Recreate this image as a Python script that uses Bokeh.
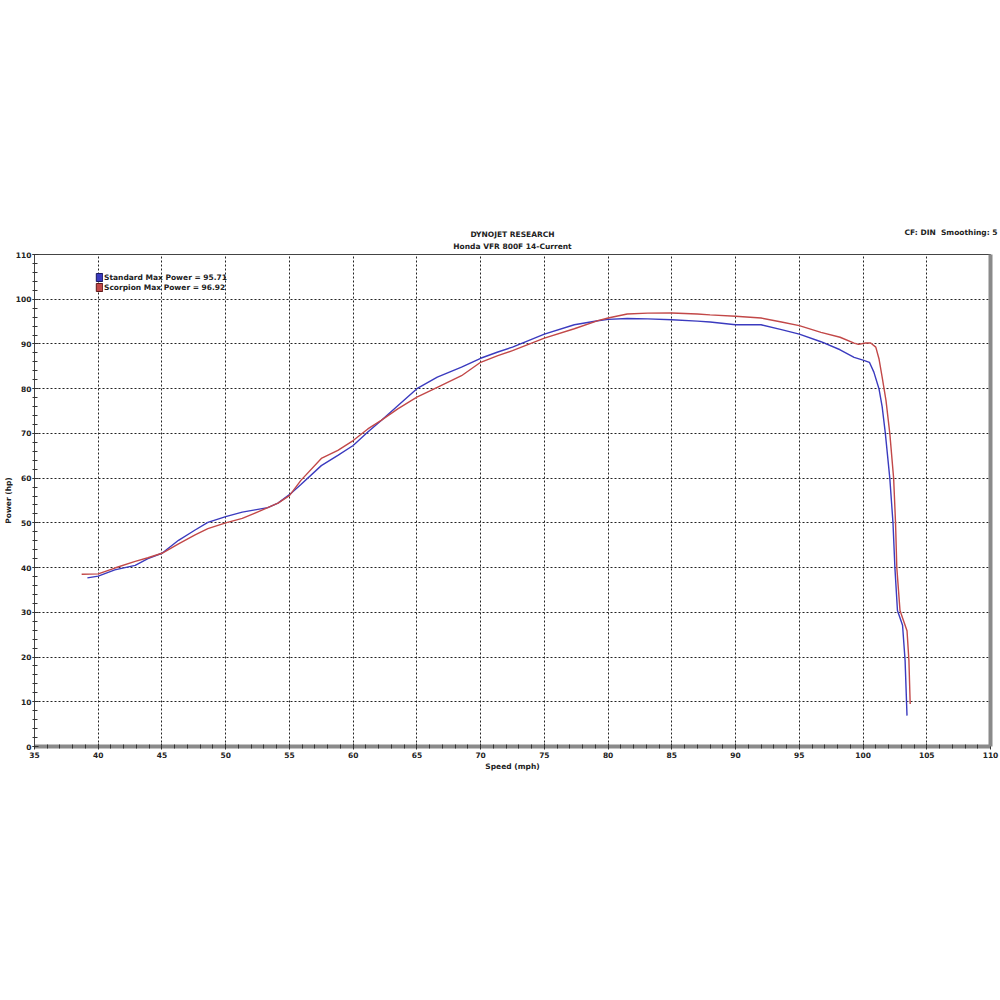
import math
from bokeh.plotting import figure
from bokeh.models import (SingleIntervalTicker, FixedTicker, LinearAxis, Legend, LegendItem, Range1d, Title)
from bokeh.embed import file_html
from bokeh.resources import INLINE

# ---- data ----
speed_std = [39.15, 40, 41.3, 42.9, 43.9, 45, 46.3, 47.6, 48.6, 50, 51.3, 52.3, 53.3, 54.1, 55,
             55.9, 57.5, 58.8, 60, 61.15, 62.2, 63.5, 65, 66.6, 68.5, 70, 71.35, 72.5, 75, 77.35,
             79.2, 80, 81.5, 83.1, 85, 87, 88, 90, 92, 93.6, 95, 96.7, 98.2, 99.3, 100, 100.5,
             100.85, 101.25, 101.5, 101.75, 102.1, 102.35, 102.5, 102.7, 103.1, 103.3, 103.45]
power_std = [37.7, 38.1, 39.5, 40.5, 42.0, 43.2, 46.1, 48.4, 50.1, 51.4, 52.4, 52.9, 53.4, 54.4, 56.3,
             58.6, 62.8, 65.1, 67.3, 70.3, 72.9, 76.2, 80.0, 82.6, 84.8, 86.8, 88.2, 89.3, 92.2, 94.3,
             95.2, 95.5, 95.7, 95.6, 95.4, 95.1, 94.9, 94.3, 94.3, 93.2, 92.2, 90.5, 88.7, 87.0, 86.4, 85.9,
             83.7, 80.0, 76.0, 70.0, 60.0, 50.0, 40.0, 30.4, 27.1, 19.2, 6.9]

speed_sc = [38.7, 40, 41.3, 42.9, 43.9, 45, 46.3, 47.6, 48.6, 50, 51.3, 52.3, 53.3, 54.1, 55,
            55.9, 57.5, 58.8, 60, 61.15, 62.2, 63.5, 65, 66.6, 68.5, 70, 71.35, 72.5, 75, 77.35,
            79.2, 80, 81.5, 83.1, 85, 87, 88, 90, 92, 93.6, 95, 96.7, 98.2, 99.3, 99.65, 100.2,
            100.6, 101.0, 101.25, 101.5, 101.8, 102.1, 102.4, 102.55, 102.65, 102.9, 103.45, 103.6, 103.7]
power_sc = [38.5, 38.6, 39.9, 41.4, 42.2, 43.2, 45.3, 47.3, 48.7, 50.0, 51.0, 52.2, 53.4, 54.4, 56.1,
            59.5, 64.4, 66.2, 68.4, 71.0, 72.9, 75.5, 78.1, 80.3, 82.9, 85.9, 87.4, 88.5, 91.3, 93.4,
            95.2, 95.8, 96.7, 96.9, 96.92, 96.7, 96.5, 96.2, 95.8, 94.9, 94.1, 92.6, 91.5, 90.2, 89.9, 90.2,
            90.2, 89.3, 86.7, 82.6, 77.4, 70.0, 60.0, 50.0, 40.0, 30.4, 25.9, 19.2, 9.5]

legend_labels = ["Standard Max Power = 95.71", "Scorpion Max Power = 96.92"]
title_lines = ["DYNOJET RESEARCH", "Honda VFR 800F 14-Current"]
corner_note = "CF: DIN\u00a0 Smoothing: 5"
x_label = "Speed (mph)"
y_label = "Power (hp)"

BLUE = "#3b3bbf"
RED = "#c24848"
FONT = "DejaVu Sans"
FS = "7.5px"
TXT = "#222222"

FRAME_H = 492
p = figure(width=1000, height=790, output_backend="svg", toolbar_location=None,
           x_range=Range1d(35, 110), y_range=Range1d(0, 110),
           min_border_left=33, min_border_right=10, min_border_top=254, min_border_bottom=44,
           background_fill_color="white", border_fill_color="white")

def mk_title(text, align="center", standoff=0, offset=0):
    return Title(text=text, align=align, offset=offset, text_font=FONT, text_font_size=FS,
                 text_font_style="bold", text_color=TXT, standoff=standoff)

t_sub = mk_title(title_lines[1], standoff=7)
t_main = mk_title(title_lines[0], standoff=-5)
t_note = mk_title(corner_note, align="right", standoff=-12, offset=-7)
# the first entry sits nearest to the frame
p.above = [t_sub, t_main, t_note]

p.outline_line_color = "#444444"
p.outline_line_width = 1

xt = SingleIntervalTicker(interval=5, num_minor_ticks=5)
yt = SingleIntervalTicker(interval=10, num_minor_ticks=5)
p.xaxis.ticker = xt
p.yaxis.ticker = yt
p.xgrid.ticker = xt
p.ygrid.ticker = yt
for g in (p.xgrid, p.ygrid):
    g.grid_line_color = "#222222"
    g.grid_line_dash = "2 2"
    g.grid_line_width = 1

for ax in (p.xaxis, p.yaxis):
    ax.major_label_text_font = FONT
    ax.major_label_text_font_size = FS
    ax.major_label_text_font_style = "bold"
    ax.major_label_text_color = TXT
    ax.axis_label_text_font = FONT
    ax.axis_label_text_font_size = FS
    ax.axis_label_text_font_style = "bold"
    ax.axis_label_text_color = TXT
    ax.major_tick_line_color = "#333333"
    ax.minor_tick_line_color = "#333333"

p.xaxis.axis_line_color = "#8a8a8a"
p.xaxis.axis_line_width = 4
p.xaxis.major_tick_in = 3
p.xaxis.major_tick_out = 3
p.xaxis.minor_tick_in = 2
p.xaxis.minor_tick_out = 2
p.xaxis.major_label_standoff = 2
p.xaxis.axis_label = x_label
p.xaxis.axis_label_standoff = 1

p.yaxis.axis_line_color = "#444444"
p.yaxis.axis_line_width = 1
p.yaxis.major_tick_in = 4
p.yaxis.major_tick_out = 2
p.yaxis.minor_tick_in = 3
p.yaxis.minor_tick_out = 2
p.yaxis.major_label_standoff = 1
p.yaxis.axis_label = y_label
p.yaxis.axis_label_standoff = 0

# right-hand shadow edge
rax = LinearAxis(ticker=FixedTicker(ticks=[]), major_tick_line_color=None, minor_tick_line_color=None,
                 axis_line_color="#8a8a8a", axis_line_width=4)
p.add_layout(rax, "right")

p.line(speed_std, power_std, line_color=BLUE, line_width=1.4)
p.line(speed_sc, power_sc, line_color=RED, line_width=1.4)

# legend swatches (no visible data of their own)
nan = float("nan")
r1 = p.quad(left=[nan], right=[nan], top=[nan], bottom=[nan], fill_color=BLUE, line_color="#1a1a60")
r2 = p.quad(left=[nan], right=[nan], top=[nan], bottom=[nan], fill_color=RED, line_color="#601a1a")
leg = Legend(items=[LegendItem(label=legend_labels[0], renderers=[r1]),
                    LegendItem(label=legend_labels[1], renderers=[r2])],
             location=(61, FRAME_H - 38), padding=0, margin=0, spacing=0,
             glyph_width=8, glyph_height=10, label_height=10, label_standoff=1,
             label_text_font=FONT, label_text_font_size=FS, label_text_font_style="bold",
             label_text_color=TXT, border_line_color=None, background_fill_alpha=0)
p.add_layout(leg, "center")

open("out.html", "w").write(file_html(p, INLINE))
